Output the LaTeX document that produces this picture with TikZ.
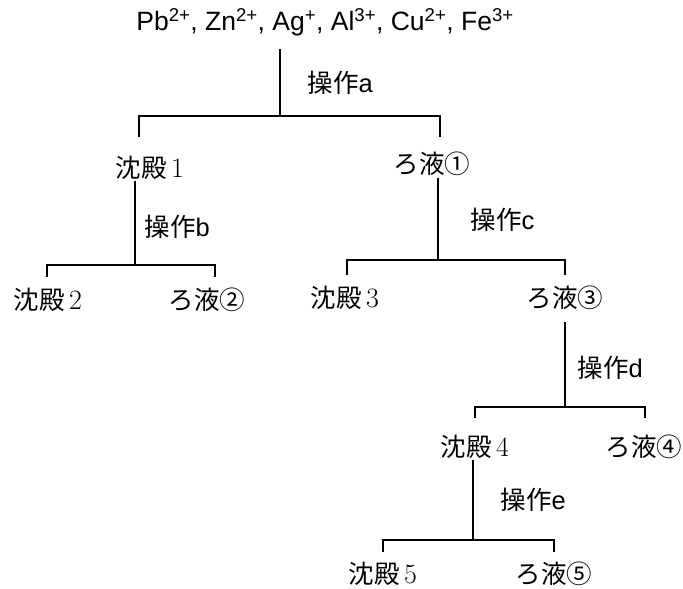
\documentclass[tikz,border=0pt]{standalone}
\usepackage{fontspec}
\setmainfont{Liberation Sans}
\newfontfamily\jp{Noto Sans CJK JP}
\newfontfamily\nums{Latin Modern Roman}
\tikzset{
  lbl/.style={font=\fontsize{25.5}{27}\selectfont, inner sep=1pt},
  op/.style={lbl, anchor=west},
}
\newcommand{\sd}[1]{{\jp 沈殿}\,{\nums\fontsize{28}{28}\selectfont #1}}
\newcommand{\rx}[1]{{\jp ろ液#1}}
\begin{document}
\begin{tikzpicture}[x=1pt, y=-1pt, line width=1.4pt]
  \useasboundingbox (0,0) rectangle (683,589);
  % start
  \node[lbl, font=\fontsize{26.5}{28}\selectfont] (ions) at (325,22) {Pb\textsuperscript{2+}, Zn\textsuperscript{2+}, Ag\textsuperscript{+}, Al\textsuperscript{3+}, Cu\textsuperscript{2+}, Fe\textsuperscript{3+}};
  % operation a
  \coordinate (ja) at (280,116);
  \coordinate (a1) at (139,137);
  \coordinate (a2) at (440,137);
  \draw ([yshift=-12pt]ions.south -| ja) -- (ja);
  \draw (a1) |- (ja) -| (a2);
  \node[op] (opa) at (306,83) {{\jp 操作}a};
  \node[lbl] (s1) at (150,168) {\sd{1}};
  \node[lbl] (f1) at (432,164) {\rx{①}};
  % operation b
  \coordinate (jb) at (135,265);
  \coordinate (b1) at (47,277);
  \coordinate (b2) at (215,277);
  \draw (s1.south -| jb) -- (jb);
  \draw (b1) |- (jb) -| (b2);
  \node[op] (opb) at (143,227) {{\jp 操作}b};
  \node[lbl] (s2) at (48,300) {\sd{2}};
  \node[lbl] (f2) at (207,300) {\rx{②}};
  % operation c
  \coordinate (jc) at (438,260);
  \coordinate (c1) at (347,275);
  \coordinate (c2) at (565,275);
  \draw (f1.south -| jc) -- (jc);
  \draw (c1) |- (jc) -| (c2);
  \node[op] (opc) at (469,220) {{\jp 操作}c};
  \node[lbl] (s3) at (345,298) {\sd{3}};
  \node[lbl] (f3) at (565,298) {\rx{③}};
  % operation d
  \coordinate (jd) at (565,407);
  \coordinate (d1) at (475,418);
  \coordinate (d2) at (645,418);
  \draw ([yshift=-10pt]f3.south -| jd) -- (jd);
  \draw (d1) |- (jd) -| (d2);
  \node[op] (opd) at (576,368) {{\jp 操作}d};
  \node[lbl] (s4) at (475,447) {\sd{4}};
  \node[lbl] (f4) at (644,447) {\rx{④}};
  % operation e
  \coordinate (je) at (473,540);
  \coordinate (e1) at (383,552);
  \coordinate (e2) at (554,552);
  \draw (s4.south -| je) -- (je);
  \draw (e1) |- (je) -| (e2);
  \node[op] (ope) at (499,500) {{\jp 操作}e};
  \node[lbl] (s5) at (383,574) {\sd{5}};
  \node[lbl] (f5) at (554,574) {\rx{⑤}};
\end{tikzpicture}
\end{document}
